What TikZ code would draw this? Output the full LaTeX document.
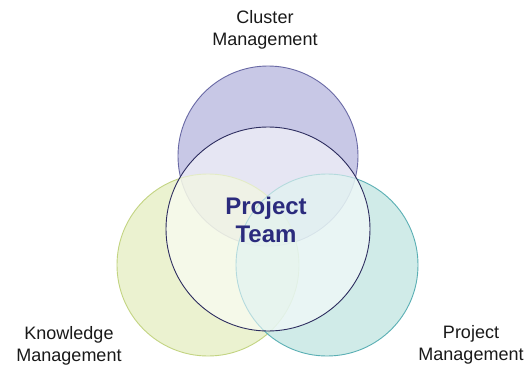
\documentclass[tikz,border=0pt]{standalone}
\usepackage{fontspec}
\setmainfont{Liberation Sans}
\definecolor{purpfill}{RGB}{200,200,230}
\definecolor{purpedge}{RGB}{105,105,165}
\definecolor{greenfill}{RGB}{228,238,190}
\definecolor{greenedge}{RGB}{195,212,130}
\definecolor{tealfill}{RGB}{190,228,224}
\definecolor{tealedge}{RGB}{90,175,180}
\definecolor{coreedge}{RGB}{45,45,95}
\definecolor{teamtext}{RGB}{43,43,125}
\definecolor{labeltext}{RGB}{25,25,25}
\tikzset{
  ring/.style={circle, line width=0.9pt, inner sep=0pt},
  outerlabel/.style={align=center, font=\fontsize{18}{22}\selectfont, text=labeltext, inner sep=0pt},
  corelabel/.style={align=center, font=\fontsize{24}{28}\selectfont\bfseries, text=teamtext, inner sep=0pt}
}
\begin{document}
\begin{tikzpicture}[x=1pt,y=-1pt]
\useasboundingbox (0,0) rectangle (527,367);
\fill[white] (0,0) rectangle (527,367);
% outer circles
\node[ring, minimum size=180pt, draw=purpedge, fill=purpfill] (cluster) at (268,156) {};
\node[ring, minimum size=182pt, draw=greenedge, fill=greenfill, fill opacity=0.72] (knowledge) at (208,265) {};
\node[ring, minimum size=182pt, draw=tealedge, fill=tealfill, fill opacity=0.72] (project) at (327,265) {};
% core circle
\node[ring, minimum size=204pt, draw=coreedge, fill=white, fill opacity=0.55] (core) at (268,229) {};
% labels
\node[corelabel] (team) at (266,220) {Project\\Team};
\node[outerlabel] (lcluster) at (265,29.5) {Cluster\\Management};
\node[outerlabel] (lknow) at (69,345.5) {Knowledge\\Management};
\node[outerlabel] (lproj) at (471,345) {Project\\Management};
\end{tikzpicture}
\end{document}
